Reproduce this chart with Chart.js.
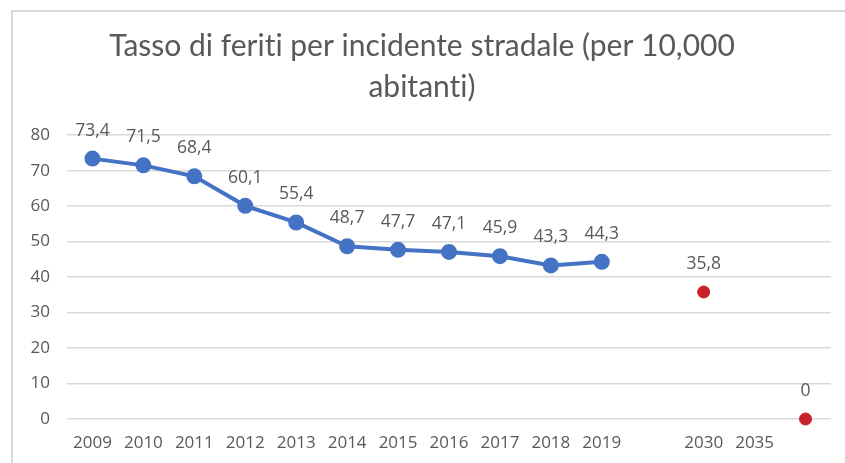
<!DOCTYPE html>
<html>
<head>
<meta charset="utf-8">
<script src="https://cdn.jsdelivr.net/npm/chart.js"></script>
<style>
  html, body { margin: 0; padding: 0; background: #fff; }
  #wrap {
    position: absolute; left: 11px; top: 10px;
    width: 832px; height: 451px;
    border-left: 2px solid #d9d9d9; border-top: 2px solid #d9d9d9;
  }
  canvas { display: block; }
</style>
</head>
<body>
<div id="wrap"><canvas id="chart" width="832" height="451"></canvas></div>
<script>
// categories (blank slots keep the Excel spacing)
const years = ['2009', '2010', '2011', '2012', '2013', '2014', '2015', '2016', '2017', '2018', '2019', '', '2030', '2035', ''];
// observed rate per 10,000 inhabitants
const observed = [73.4, 71.5, 68.4, 60.1, 55.4, 48.7, 47.7, 47.1, 45.9, 43.3, 44.3, null, null, null, null];
// targets
const targets = [null, null, null, null, null, null, null, null, null, null, null, null, 35.8, null, 0];
const yTicks = [0, 10, 20, 30, 40, 50, 60, 70, 80];

const grey = '#595959';
const tickFont = { family: 'Open Sans', size: 17 };

function fmt(v) {
    return Number.isInteger(v) ? String(v) : v.toFixed(1).replace('.', ',');
}

// no "ti" ligature in the title
const noLigatures = {
    id: 'noLigatures',
    beforeDraw(chart) {
        chart.ctx.textRendering = 'optimizeSpeed';
    }
};

// simple value labels above each point
const valueLabels = {
    id: 'valueLabels',
    afterDatasetsDraw(chart) {
        const ctx = chart.ctx;
        ctx.save();
        ctx.font = '17.5px "Open Sans"';
        ctx.fillStyle = grey;
        ctx.textAlign = 'center';
        ctx.textBaseline = 'middle';
        chart.data.datasets.forEach((ds, i) => {
            const meta = chart.getDatasetMeta(i);
            meta.data.forEach((pt, j) => {
                const v = ds.data[j];
                if (v === null || v === undefined) return;
                ctx.fillText(fmt(v), pt.x, pt.y - 28);
            });
        });
        ctx.restore();
    }
};

new Chart(document.getElementById('chart'), {
    type: 'line',
    data: {
        labels: years,
        datasets: [{
            data: observed,
            borderColor: '#4472c4',
            backgroundColor: '#4472c4',
            borderWidth: 4,
            pointRadius: 6,
            pointHoverRadius: 6,
            clip: false
        }, {
            data: targets,
            showLine: false,
            borderColor: '#c9202a',
            backgroundColor: '#c9202a',
            pointRadius: 6,
            pointHoverRadius: 6,
            clip: false
        }]
    },
    options: {
        responsive: false,
        animation: false,
        layout: { padding: { left: 0, right: 14, top: 0, bottom: 0 } },
        plugins: {
            legend: { display: false },
            tooltip: { enabled: false },
            title: {
                display: true,
                text: ['Tasso di feriti per incidente stradale (per 10,000', 'abitanti)'],
                color: grey,
                font: { family: 'Lato', size: 30, weight: 'normal', lineHeight: 1.37 },
                padding: { top: 14, bottom: 27 }
            }
        },
        scales: {
            x: {
                offset: true,
                grid: { display: false },
                border: { display: false },
                ticks: { color: grey, font: tickFont, maxRotation: 0, autoSkip: false, padding: 6 },
                afterFit(s) { s.height = 44; }
            },
            y: {
                min: 0,
                max: 80,
                afterBuildTicks(s) { s.ticks = yTicks.map(v => ({ value: v })); },
                grid: { color: '#d9d9d9', lineWidth: 1.5, drawTicks: false },
                border: { display: false },
                ticks: { color: grey, font: tickFont, padding: 17 },
                afterFit(s) { s.width = 54; }
            }
        }
    },
    plugins: [noLigatures, valueLabels]
});
</script>
</body>
</html>
